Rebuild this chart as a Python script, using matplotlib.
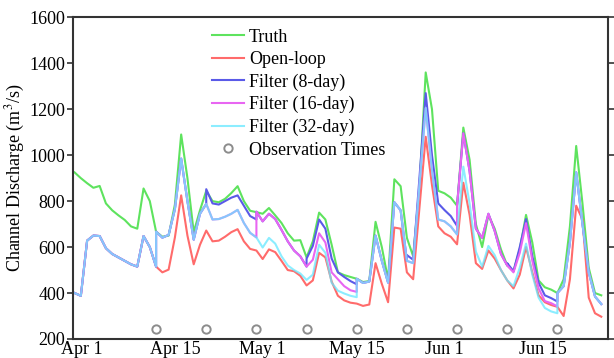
import numpy as np
import matplotlib
matplotlib.use('Agg')
import matplotlib.pyplot as plt

# ============================================================================
# Data (days since Apr 1; observation days appear twice: before / after update)
# ============================================================================
obs_days = [13, 21, 29, 37, 45, 53, 61, 69, 77]
obs_q = [245] * len(obs_days)
day = sorted(list(range(85)) + obs_days)

truth = [925, 900, 878, 858, 866, 790, 760, 738, 718, 690, 680, 855, 800,
         667, 667,
         645, 650, 785, 1090, 900, 665, 760,
         845, 845,
         800, 795, 810, 835, 865, 800, 758,
         752, 752,
         745, 770, 738, 705, 660, 628, 630,
         555, 555,
         625, 750, 720, 610, 490, 478, 470,
         462, 462,
         448, 452, 710, 600, 458, 895, 865,
         640, 640,
         560, 860, 1360, 1200, 845, 834, 815,
         780, 780,
         1120, 980, 700, 600, 740, 680, 590,
         520, 520,
         495, 590, 740, 620, 455, 425, 415,
         400, 400,
         460, 690, 1040, 790, 510, 400, 390]

open_loop = [400, 388, 628, 650, 648, 595, 570, 555, 540, 525, 515, 648, 600,
             515, 515,
             490, 502, 642, 825, 650, 525, 610,
             672, 672,
             625, 628, 645, 665, 678, 625, 592,
             585, 585,
             548, 590, 578, 540, 500, 495, 475,
             433, 433,
             455, 575, 555, 450, 388, 368, 358,
             354, 354,
             344, 350, 530, 440, 360, 685, 680,
             490, 490,
             460, 770, 1080, 870, 690, 660, 645,
             612, 612,
             880, 740, 530, 505, 585, 550, 500,
             455, 455,
             420, 480, 600, 490, 390, 360, 348,
             340, 340,
             300, 460, 780, 720, 380, 312, 297]

filter_8 = [400, 388, 628, 650, 648, 595, 570, 555, 540, 525, 515, 648, 600,
            515, 667,
            641, 653, 765, 985, 800, 632, 745,
            788, 852,
            790, 785, 800, 815, 825, 780, 735,
            720, 754,
            712, 745, 722, 675, 625, 585, 560,
            515, 550,
            605, 720, 680, 550, 490, 470, 452,
            438, 462,
            444, 450, 650, 540, 445, 795, 760,
            540, 565,
            545, 900, 1270, 1000, 790, 761, 735,
            692, 780,
            1095, 930, 680, 640, 745, 670, 570,
            520, 530,
            495, 600, 722, 560, 445, 390, 378,
            363, 400,
            430, 620, 925, 700, 490, 385, 352]

filter_16 = [400, 388, 628, 650, 648, 595, 570, 555, 540, 525, 515, 648, 600,
             515, 667,
             641, 653, 765, 985, 800, 632, 745,
             788, 788,
             720, 722, 732, 745, 762, 705, 662,
             642, 754,
             712, 745, 722, 675, 625, 585, 560,
             515, 515,
             545, 660, 620, 490, 460, 430, 412,
             405, 462,
             444, 450, 650, 540, 445, 795, 760,
             540, 540,
             530, 870, 1205, 935, 720, 712, 690,
             655, 780,
             1095, 930, 680, 640, 745, 670, 570,
             520, 520,
             490, 575, 704, 540, 420, 365, 356,
             342, 400,
             430, 620, 925, 700, 490, 385, 352]

filter_32 = [400, 388, 628, 650, 648, 595, 570, 555, 540, 525, 515, 648, 600,
             515, 667,
             641, 653, 765, 985, 800, 632, 745,
             788, 788,
             720, 722, 732, 745, 762, 705, 662,
             642, 642,
             598, 640, 615, 560, 520, 500, 485,
             457, 457,
             480, 610, 575, 445, 410, 398, 388,
             382, 462,
             444, 450, 650, 540, 445, 795, 760,
             540, 540,
             530, 870, 1205, 935, 720, 712, 690,
             655, 655,
             950, 790, 580, 515, 605, 565, 500,
             455, 455,
             430, 510, 615, 480, 380, 335, 320,
             312, 400,
             430, 620, 925, 700, 490, 385, 352]

tick_pos = [1.2, 16, 30, 45, 59, 74.7]
tick_labels = ['Apr 1', 'Apr 15', 'May 1', 'May 15', 'Jun 1', 'Jun 15']

# ============================================================================
# Plot
# ============================================================================
plt.rcParams['font.family'] = ['Liberation Serif', 'DejaVu Serif']
plt.rcParams['mathtext.fontset'] = 'stix'

fig = plt.figure(figsize=(6.14, 3.58), dpi=100)
ax = fig.add_axes([0.1189, 0.0531, 0.8713, 0.8986])

lw = 1.5
ax.plot(day, truth, color='#5ee35e', lw=lw, label='Truth')
ax.plot(day, open_loop, color='#ff6b6b', lw=lw, label='Open-loop')
ax.plot(day, filter_8, color='#5a5ae8', lw=lw, label='Filter (8-day)')
ax.plot(day, filter_16, color='#e866f2', lw=lw, label='Filter (16-day)')
ax.plot(day, filter_32, color='#66e8ff', lw=lw, alpha=0.75, label='Filter (32-day)')
ax.plot(obs_days, obs_q, 'o', ms=6, mfc='none', mec='#8c8c8c', mew=1.4,
        label='Observation Times')

ax.set_xlim(-0.25, 85.07)
ax.set_ylim(200, 1600)
ax.set_yticks(np.arange(200, 1601, 200))
ax.set_xticks(tick_pos)
ax.set_xticklabels(tick_labels)
ax.tick_params(axis='x', length=0, pad=1.5, labelsize=13)
ax.tick_params(axis='y', direction='out', length=4, width=1.2, labelsize=13,
               right=True, pad=1.5, color='#333333')
ax.set_ylabel('Channel Discharge (m$^3$/s)', fontsize=13, labelpad=2)
for s in ax.spines.values():
    s.set_linewidth(1.5)
    s.set_color('#333333')

leg = ax.legend(loc='upper left', bbox_to_anchor=(0.26, 0.965), frameon=False,
                fontsize=13, borderaxespad=0, borderpad=0, handlelength=1.75,
                handletextpad=0.3, labelspacing=0.3)

plt.savefig('out.png', dpi=100)
print("Saved out.png")
